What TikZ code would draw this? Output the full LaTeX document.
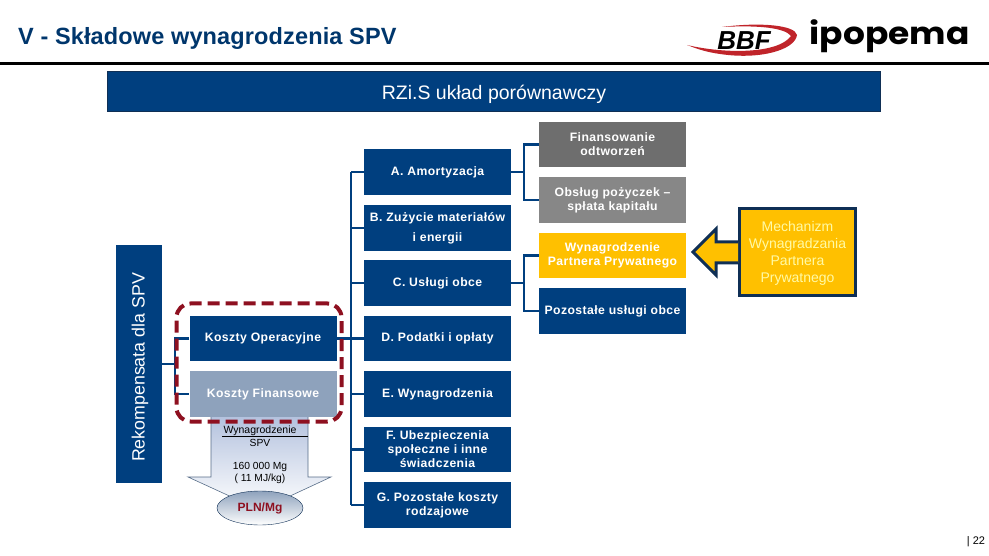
\documentclass[tikz,border=0pt]{standalone}
\usepackage{fontspec}
\setmainfont{Liberation Sans}
\newfontfamily\logofont{Poppins}
\usetikzlibrary{arrows.meta,positioning,shapes}
\definecolor{navy}{HTML}{003F7F}
\definecolor{navydark}{HTML}{0F2F55}
\definecolor{goldbox}{HTML}{FFC000}
\definecolor{redline}{HTML}{8E1020}
\definecolor{palebox}{HTML}{8EA2BC}
\definecolor{palearrow}{HTML}{B4C2DE}
\definecolor{swoosh}{HTML}{C0242A}
\tikzset{
  box/.style={draw=none,fill=navy,text=white,minimum width=147pt,minimum height=45.5pt,inner sep=0pt,align=center,
    font=\fontsize{12.2}{14}\selectfont\bfseries\addfontfeatures{LetterSpace=3.5}},
  link/.style={draw=navy,line width=2.8pt,line join=miter},
  smalltxt/.style={inner sep=0pt,align=center,font=\fontsize{10.3}{12.5}\selectfont},
}
\begin{document}
\begin{tikzpicture}[x=1pt,y=-1pt]
\useasboundingbox (0,0) rectangle (989,556);
% header
\node[anchor=base west,inner sep=0pt,text=navy!85!black,font=\fontsize{23.5}{24}\selectfont\bfseries\addfontfeatures{LetterSpace=.6}] (title) at (18,45) {V - Składowe wynagrodzenia SPV};
\coordinate (ruleL) at (0,63.5);
\coordinate (ruleR) at (989,63.5);
\draw[line width=3pt] (ruleL) -- (ruleR);
\fill[swoosh] (687,45) .. controls (725,54) and (778,54) .. (791,36) .. controls (785,28) and (760,25) .. (722,27) .. controls (760,22) and (795,25) .. (797,35) .. controls (795,50) and (760,60) .. (720,54) .. controls (705,52) and (695,48) .. (687,45) -- cycle;
\node[inner sep=0pt,font=\fontsize{26}{27}\selectfont\bfseries\itshape] (bbf) at (744,41) {BBF};
\node[anchor=base,inner sep=0pt,xscale=1.11,font=\fontsize{31}{32}\selectfont\logofont\bfseries] (ipopema) at (889.5,45) {ipopema};
\node[draw=navydark,fill=navy,text=white,line width=1pt,minimum width=773pt,minimum height=40pt,inner sep=0pt,text height=15pt,text depth=0pt,font=\fontsize{19.5}{22}\selectfont] (banner) at (494,92) {RZi.S układ porównawczy};
% left column
\node[fill=navy,rotate=90,minimum width=238pt,minimum height=46pt,inner sep=0pt] (rek) at (139,364) {};
\node[text=white,rotate=90,inner sep=0pt,font=\fontsize{17.8}{20}\selectfont] (rekText) at (140,367.5) {Rekompensata dla SPV};
\node[box] (kop) at (263,338.5) {Koszty Operacyjne};
\node[box,fill=palebox] (kfin) at (263,394) {Koszty Finansowe};
% arrow below
\shade[top color=palearrow,bottom color=white,draw=none] (211,417) -- (308,417) -- (308,477) -- (331,477) -- (260,510) -- (188,477) -- (211,477) -- cycle;
\draw[navydark!70,line width=.6pt] (211,417) -- (211,477) -- (188,477) -- (260,510) -- (331,477) -- (308,477) -- (308,417);
\node[smalltxt,font=\fontsize{10.5}{12}\selectfont] (wyn) at (260,431) {Wynagrodzenie};
\coordinate (wynL) at (222,436.5);
\coordinate (wynR) at (308,436.5);
\draw[line width=1.6pt] (wynL) -- (wynR);
\node[smalltxt] (spv) at (260,443) {SPV};
\node[smalltxt] (mg) at (260,473) {160 000 Mg\\( 11 MJ/kg)};
\node[draw=navydark,ellipse,top color=palebox,bottom color=white,minimum width=86pt,minimum height=34pt,inner sep=0pt,text=redline,font=\fontsize{12}{14}\selectfont\bfseries] (pln) at (260,508) {PLN/Mg};
% middle column
\node[box] (nA) at (437.5,172) {A. Amortyzacja};
\node[box,font=\fontsize{12.2}{20}\selectfont\bfseries\addfontfeatures{LetterSpace=3.5}] (nB) at (437.5,228) {B. Zużycie materiałów\\i energii};
\node[box] (nC) at (437.5,283) {C. Usługi obce};
\node[box] (nD) at (437.5,338.5) {D. Podatki i opłaty};
\node[box] (nE) at (437.5,394) {E. Wynagrodzenia};
\node[box] (nF) at (437.5,449.5) {F. Ubezpieczenia\\społeczne i inne\\świadczenia};
\node[box] (nG) at (437.5,505) {G. Pozostałe koszty\\rodzajowe};
% right column
\node[box,fill=black!57] (rFin) at (612.5,144.5) {Finansowanie\\odtworzeń};
\node[box,fill=black!47] (rObs) at (612.5,200) {Obsług pożyczek --\\spłata kapitału};
\node[box,fill=goldbox] (rWyn) at (612.5,255.5) {Wynagrodzenie\\Partnera Prywatnego};
\node[box] (rPoz) at (612.5,311) {Pozostałe usługi obce};
\node[fill=goldbox,draw=navydark,line width=3pt,minimum width=116pt,minimum height=87pt,inner sep=0pt] (mech) at (797.5,252) {};
\draw[fill=goldbox,draw=navydark,line width=3pt,line join=miter] (mech.west |- 0,242) -- (716,242) -- (716,229) -- (693,252) -- (716,275) -- (716,263) -- (mech.west |- 0,263);
\node[inner sep=0pt,align=center,text=yellow!35!white,font=\fontsize{14}{17}\selectfont] (mechText) at (797.5,253) {Mechanizm\\Wynagradzania\\Partnera\\Prywatnego};
% connectors
\coordinate (trunk) at (351,0);
\coordinate (trunkR) at (524,0);
\coordinate (trunkL) at (175,0);
\foreach \n in {nA,nB,nC,nD,nE,nF,nG}
  \draw[link] (\n.west) -- (\n.west -| trunk);
\draw[link] (nA.west -| trunk) -- (nG.west -| trunk);
\draw[link] (kop.east) -- (nD.west);
\draw[link] (rek.south) -- (rek.south -| trunkL);
\draw[link] (kop.west) -| (kfin.west -| trunkL) -- (kfin.west);
\draw[link] (nA.east) -- (nA.east -| trunkR);
\draw[link] (rFin.west) -| (rObs.west -| trunkR) -- (rObs.west);
\draw[link] (nC.east) -- (nC.east -| trunkR);
\draw[link] (rWyn.west) -| (rPoz.west -| trunkR) -- (rPoz.west);
% dashed frame
\node[draw=redline,dash pattern=on 12pt off 6pt,line width=4pt,rounded corners=14pt,minimum width=165pt,minimum height=118pt,inner sep=0pt] (frame) at (259,362.5) {};
\node[inner sep=0pt,font=\fontsize{11}{13}\selectfont] (page) at (976,542) {| 22};
\end{tikzpicture}
\end{document}
